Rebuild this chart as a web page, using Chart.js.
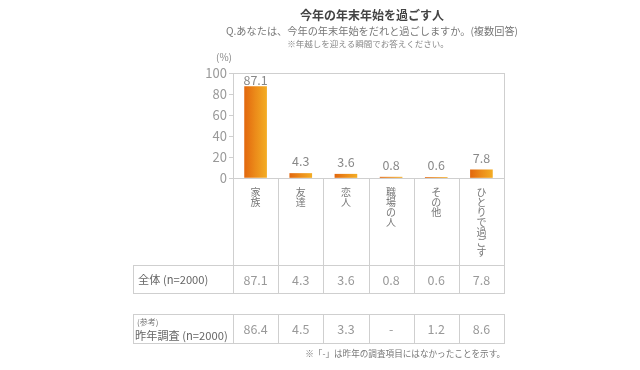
<!DOCTYPE html>
<html>
<head>
<meta charset="utf-8">
<script src="https://cdn.jsdelivr.net/npm/chart.js@4.4.1/dist/chart.umd.min.js"></script>
<style>
  html, body { margin: 0; padding: 0; background: #fff; }
  canvas { display: block; }
</style>
</head>
<body>
<canvas id="chart" width="640" height="370"></canvas>
<script>
// data
const categories = ['家族', '友達', '恋人', '職場の人', 'その他', 'ひとりで過ごす'];
const thisYear = [87.1, 4.3, 3.6, 0.8, 0.6, 7.8];
const lastYear = [86.4, 4.5, 3.3, null, 1.2, 8.6];
const yTicks = [0, 20, 40, 60, 80, 100];

const FONT = '"Noto Sans CJK JP", "Noto Sans", sans-serif';
const LINE = '#cfcfcf';

function barGradient(context) {
  const chart = context.chart;
  if (!chart.chartArea) return '#eb8c18';
  const x = chart.scales.x.getPixelForValue(context.dataIndex);
  const g = chart.ctx.createLinearGradient(x - 11, 0, x + 11, 0);
  g.addColorStop(0, '#e2680e');
  g.addColorStop(0.5, '#ec8c1a');
  g.addColorStop(1, '#f3ac24');
  return g;
}

function txt(ctx, s, x, y, size, color, align, weight) {
  ctx.font = (weight || 'normal') + ' ' + size + 'px ' + FONT;
  ctx.fillStyle = color;
  ctx.textAlign = align || 'center';
  ctx.textBaseline = 'middle';
  ctx.fillText(s, x, y);
}

function hline(ctx, x1, x2, y) {
  ctx.beginPath();
  ctx.moveTo(x1, y + 0.5);
  ctx.lineTo(x2, y + 0.5);
  ctx.stroke();
}

function vline(ctx, x, y1, y2) {
  ctx.beginPath();
  ctx.moveTo(x + 0.5, y1);
  ctx.lineTo(x + 0.5, y2);
  ctx.stroke();
}

const tablePlugin = {
  id: 'table',
  afterDraw(chart) {
    const { ctx, chartArea: a, scales: { x } } = chart;
    const n = categories.length;
    const colW = (a.right - a.left) / n;
    const left = 133;
    const catBottom = 265, row1Bottom = 293, row2Top = 314, row2Bottom = 343;
    const L = Math.round(a.left), R = Math.round(a.right), B = Math.round(a.bottom), T = Math.round(a.top);

    ctx.save();
    ctx.strokeStyle = LINE;
    ctx.lineWidth = 1;

    // frame round the plot
    hline(ctx, L, R + 1, T);
    vline(ctx, R, T, row1Bottom + 1);
    vline(ctx, L, T, row1Bottom + 1);
    hline(ctx, L, R + 1, B);

    // category + row 1
    hline(ctx, left, R + 1, catBottom);
    hline(ctx, left, R + 1, row1Bottom);
    vline(ctx, left, catBottom, row1Bottom + 1);
    for (let i = 1; i < n; i++) {
      vline(ctx, Math.round(a.left + colW * i), B, row1Bottom + 1);
    }

    // row 2
    hline(ctx, left, R + 1, row2Top);
    hline(ctx, left, R + 1, row2Bottom);
    vline(ctx, left, row2Top, row2Bottom + 1);
    for (let i = 0; i <= n; i++) {
      vline(ctx, Math.round(a.left + colW * i), row2Top, row2Bottom + 1);
    }
    ctx.restore();

    // vertical category labels
    categories.forEach((c, i) => {
      const cx = x.getPixelForValue(i);
      [...c].forEach((ch, k) => txt(ctx, ch, cx, 192 + k * 10, 10, '#777'));
    });

    // table text
    const r1 = (catBottom + row1Bottom) / 2 + 1;
    const r2 = (row2Top + row2Bottom) / 2 + 1;
    txt(ctx, '全体 (n=2000)', left + 5, r1, 11.2, '#666', 'left');
    txt(ctx, '(参考)', left + 4, 322, 8, '#777', 'left');
    txt(ctx, '昨年調査 (n=2000)', left + 2, 336, 11.2, '#666', 'left');
    categories.forEach((c, i) => {
      const cx = x.getPixelForValue(i);
      txt(ctx, thisYear[i].toFixed(1), cx, r1, 12.5, '#999');
      txt(ctx, lastYear[i] === null ? '-' : lastYear[i].toFixed(1), cx, r2, 12.5, '#999');
    });

    // headings and notes
    txt(ctx, '今年の年末年始を過ごす人', 372, 15, 12, '#444', 'center', 'bold');
    txt(ctx, 'Q.あなたは、今年の年末年始をだれと過ごしますか。(複数回答)', 372, 31, 10.2, '#777');
    txt(ctx, '※年越しを迎える瞬間でお答えください。', 368, 44, 8.5, '#888');
    txt(ctx, '(%)', 224, 57, 10, '#888');
    txt(ctx, '※「-」は昨年の調査項目にはなかったことを示す。', 505, 354, 8.6, '#777', 'right');
  },
  afterDatasetsDraw(chart) {
    const { ctx, chartArea: a } = chart;
    chart.getDatasetMeta(0).data.forEach((bar, i) => {
      const y = Math.max(bar.y - 12, a.top + 7);
      txt(ctx, thisYear[i].toFixed(1), bar.x, y, 12.5, '#888');
    });
  }
};

new Chart(document.getElementById('chart'), {
  type: 'bar',
  data: {
    labels: categories,
    datasets: [{
      label: '全体 (n=2000)',
      data: thisYear,
      backgroundColor: barGradient,
      borderWidth: 0,
      barThickness: 22
    }]
  },
  options: {
    responsive: false,
    animation: false,
    layout: { padding: { left: 0, top: 73, right: 136, bottom: 192 } },
    plugins: { legend: { display: false }, tooltip: { enabled: false } },
    scales: {
      x: { display: false },
      y: {
        min: 0,
        max: 100,
        afterBuildTicks: s => { s.ticks = yTicks.map(v => ({ value: v })); },
        afterFit: s => { s.width = 233; },
        border: { display: false },
        grid: { drawOnChartArea: false, tickLength: 4, color: LINE },
        ticks: { color: '#999', font: { family: FONT, size: 13 }, padding: 2 }
      }
    }
  },
  plugins: [tablePlugin]
});
</script>
</body>
</html>
